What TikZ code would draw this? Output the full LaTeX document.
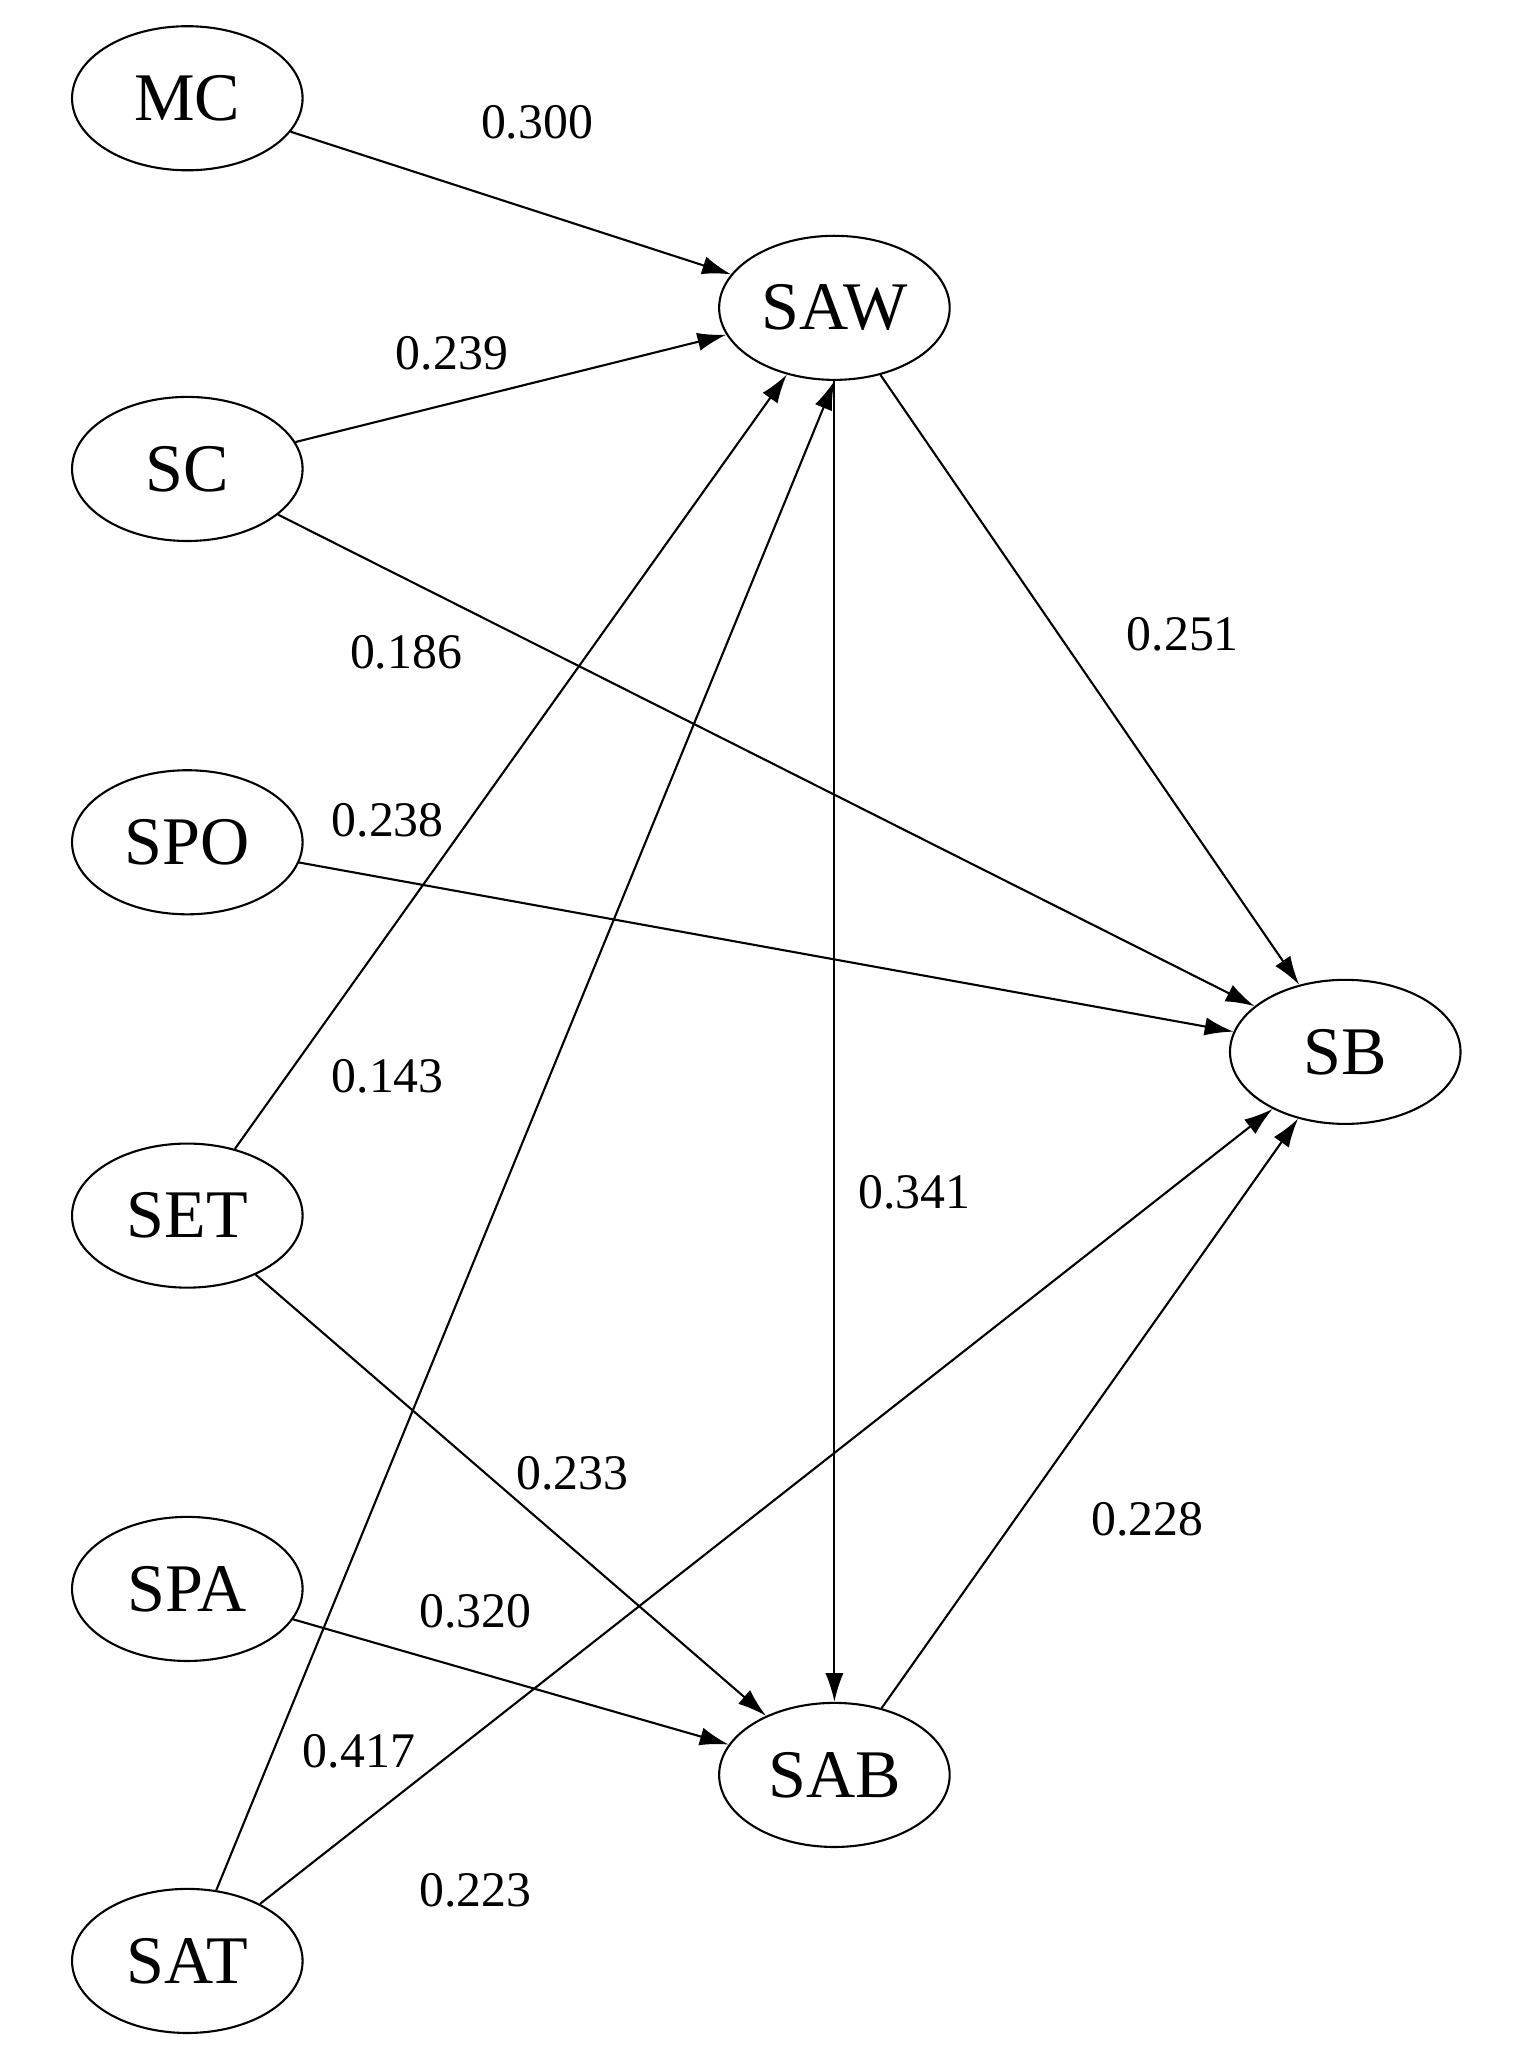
\documentclass[tikz,border=0pt]{standalone}
\usepackage{fontspec}
\setmainfont{Liberation Serif}
\usetikzlibrary{shapes.geometric,arrows.meta}
\begin{document}
\begin{tikzpicture}[x=0.5pt,y=-0.5pt,
 v/.style={ellipse,draw,line width=0.8pt,minimum width=88pt,minimum height=55pt,inner sep=0pt,font=\fontsize{26}{26}\selectfont},
 e/.style={-{Latex[length=11pt,width=7pt]},line width=0.8pt},
 l/.style={font=\fontsize{19}{19}\selectfont}]
\useasboundingbox (0,0) rectangle (1160,1565);
\node[v] (MC) at (143,75) {MC};
\node[v] (SC) at (143,358) {SC};
\node[v] (SPO) at (143,643) {SPO};
\node[v] (SET) at (143,928) {SET};
\node[v] (SPA) at (143,1213) {SPA};
\node[v] (SAT) at (143,1497) {SAT};
\node[v] (SAW) at (637,235) {SAW};
\node[v] (SB) at (1027,803) {SB};
\node[v] (SAB) at (637,1355) {SAB};
\draw[e] (MC) -- (SAW);
\draw[e] (SC) -- (SAW);
\draw[e] (SC) -- (SB);
\draw[e] (SPO) -- (SB);
\draw[e] (SET.north east) ++(-8,-8) coordinate (a) (SET) -- (SAW);
\draw[e] (SAT) -- (SAW.south);
\draw[e] (SAW) -- (SB);
\draw[e] (SAW) -- (SAB);
\draw[e] (SET) -- (SAB);
\draw[e] (SPA) -- (SAB);
\draw[e] (SAT) -- (SB);
\draw[e] (SAB) -- (SB);
\node[l] (l1) at (410,93) {0.300};
\node[l] (l2) at (345,270) {0.239};
\node[l] (l3) at (310,498) {0.186};
\node[l] (l4) at (296,626) {0.238};
\node[l] (l5) at (296,822) {0.143};
\node[l] (l6) at (698,910) {0.341};
\node[l] (l7) at (903,484) {0.251};
\node[l] (l8) at (437,1125) {0.233};
\node[l] (l9) at (876,1160) {0.228};
\node[l] (l10) at (363,1230) {0.320};
\node[l] (l11) at (274,1337) {0.417};
\node[l] (l12) at (363,1443) {0.223};
\end{tikzpicture}
\end{document}
